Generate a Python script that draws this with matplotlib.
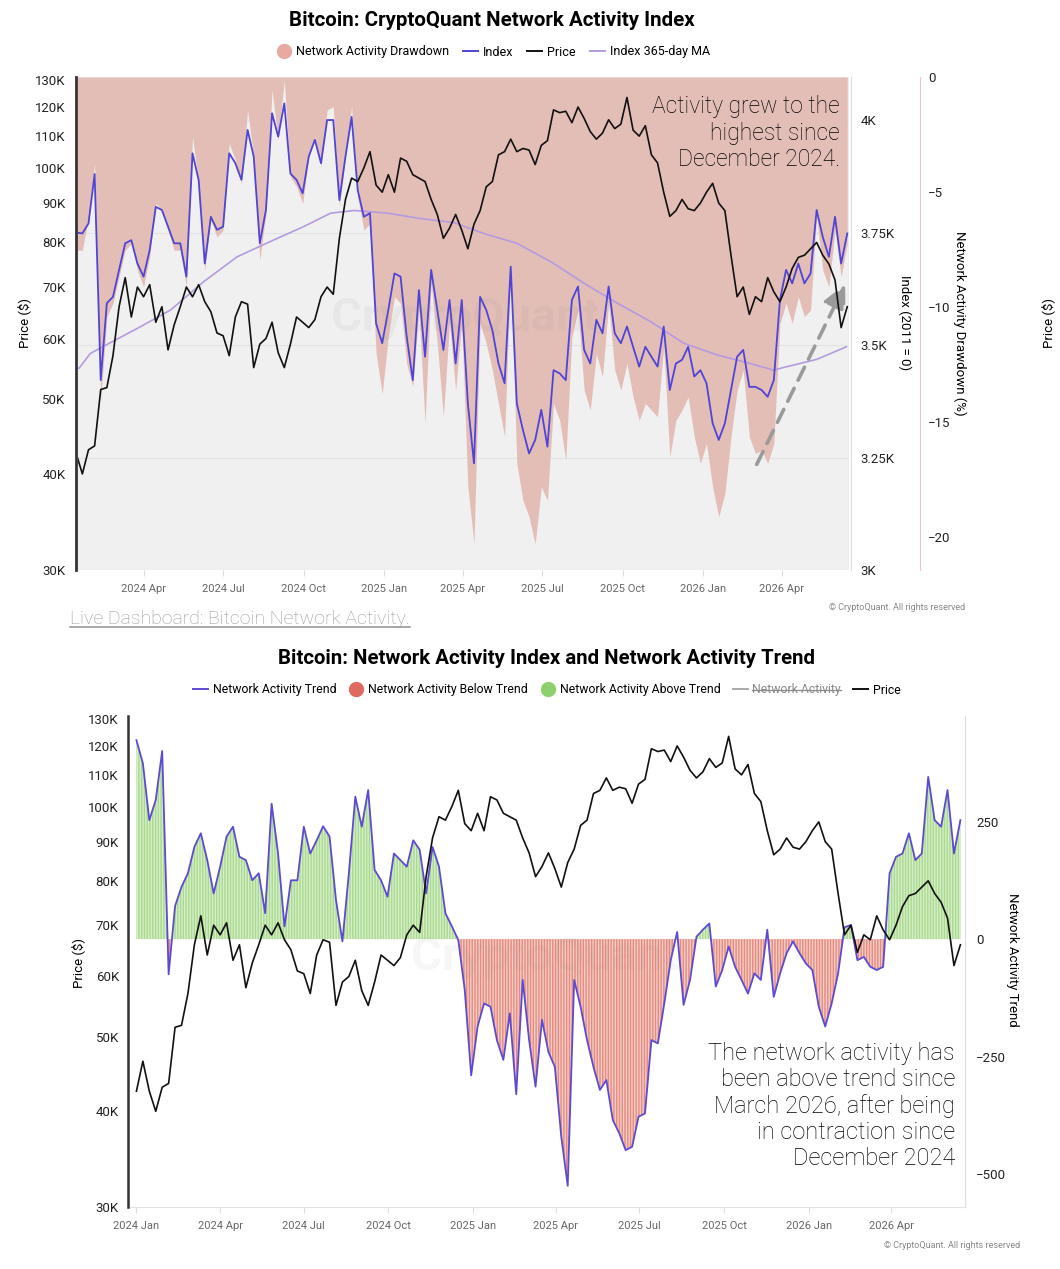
#!/usr/bin/env python3
import numpy as np
import pandas as pd
import matplotlib
matplotlib.use('Agg')
import matplotlib.pyplot as plt
import matplotlib.dates as mdates
from matplotlib.lines import Line2D
from matplotlib.ticker import FixedLocator, FixedFormatter, NullLocator

W, H = 1060, 1269

# BTC price (thousand USD), weekly from 2024-01-01
PRICE_START = '2024-01-01'
PRICE_K = [
    42.5, 46.5, 42.5, 40.0, 43.0, 43.5, 51.5, 51.8, 57.0, 66.0,
    72.0, 64.0, 70.0, 68.0, 70.5, 63.0, 66.0, 58.0, 62.5, 66.0,
    70.0, 68.0, 70.5, 67.0, 65.0, 61.0, 60.5, 57.0, 64.0, 67.0,
    66.5, 55.0, 59.0, 60.0, 63.0, 57.5, 55.0, 59.0, 64.0, 63.0,
    62.0, 63.5, 68.0, 70.0, 68.5, 81.0, 91.0, 97.0, 96.0, 100.0,
    105.0, 95.0, 93.0, 98.0, 93.0, 103.0, 102.0, 98.0, 97.0, 96.0,
    91.0, 87.0, 81.0, 83.5, 87.0, 83.0, 78.5, 84.5, 88.0, 94.5,
    96.0, 104.0, 105.0, 109.0, 105.0, 106.0, 105.5, 101.0, 107.0, 108.5,
    119.0, 118.0, 118.5, 114.5, 120.0, 116.0, 111.5, 109.0, 111.0, 115.5,
    112.5, 114.0, 123.5, 112.0, 110.0, 113.5, 104.0, 101.5, 93.0, 86.5,
    88.0, 91.0, 88.5, 88.0, 90.0, 93.0, 95.5, 90.0, 88.0, 77.0,
    68.0, 70.0, 64.5, 68.0, 67.0, 72.0, 69.0, 67.0, 70.0, 74.0,
    76.5, 77.0, 78.5, 80.0, 77.0, 75.0, 71.5, 62.0, 66.0,
]

# network activity index and its drawdown (%), weekly from 2024-01-15
NET_START = '2024-01-15'
INDEX = [
    3750, 3748, 3770, 3880, 3422, 3593, 3607, 3667, 3726, 3733,
    3681, 3652, 3711, 3807, 3800, 3763, 3726, 3726, 3652, 3926,
    3867, 3681, 3785, 3756, 3763, 3926, 3904, 3867, 3978, 3919,
    3726, 3800, 4015, 3963, 4037, 3881, 3867, 3837, 3919, 3956,
    3904, 4000, 4000, 3822, 3919, 4007, 3844, 3785, 3793, 3548,
    3504, 3578, 3659, 3652, 3519, 3422, 3622, 3474, 3667, 3578,
    3489, 3600, 3459, 3600, 3370, 3237, 3607, 3578, 3533, 3459,
    3415, 3674, 3370, 3311, 3259, 3289, 3356, 3274, 3444, 3437,
    3422, 3600, 3630, 3489, 3459, 3556, 3526, 3630, 3526, 3504,
    3541, 3496, 3452, 3496, 3474, 3452, 3541, 3400, 3459, 3467,
    3496, 3430, 3444, 3415, 3326, 3289, 3326, 3400, 3474, 3489,
    3407, 3407, 3400, 3385, 3422, 3600, 3667, 3637, 3681, 3637,
    3659, 3800, 3740, 3696, 3785, 3681, 3748,
]
DRAWDOWN = [
    -7.53, -7.53, -6.08, -3.76, -14.05, -10.42, -9.84, -8.68, -7.53, -7.24,
    -8.40, -9.12, -7.81, -5.50, -5.79, -6.66, -7.53, -7.53, -9.12, -2.60,
    -4.63, -8.40, -6.22, -6.95, -6.66, -2.89, -3.61, -4.63, -1.44, -3.47,
    -7.96, -5.93, -0.57, -2.74, -0.13, -4.34, -4.77, -5.50, -3.47, -2.60,
    -3.90, -1.44, -1.29, -5.64, -3.47, -1.29, -5.20, -6.66, -6.37, -12.02,
    -13.76, -11.29, -9.55, -9.84, -12.45, -13.47, -10.13, -15.06, -8.97, -11.58,
    -14.77, -10.71, -13.61, -10.71, -17.82, -20.28, -10.71, -11.58, -12.74, -14.19,
    -15.64, -8.40, -16.80, -18.40, -19.12, -20.30, -17.82, -18.40, -14.19, -14.92,
    -16.66, -11.29, -10.13, -13.61, -14.48, -12.02, -13.03, -9.84, -12.74, -13.61,
    -12.45, -13.90, -14.92, -14.19, -14.48, -14.77, -11.73, -16.51, -14.92, -14.48,
    -13.90, -15.64, -16.80, -15.93, -17.82, -19.12, -18.10, -15.64, -13.61, -12.74,
    -15.64, -16.37, -16.22, -16.80, -15.93, -10.71, -9.84, -10.71, -9.55, -10.42,
    -10.13, -6.08, -8.40, -9.12, -6.66, -8.68, -7.24,
]

# index 365-day moving average
MA_DATES = [
    '2024-01-18', '2024-01-31', '2024-02-16', '2024-03-25', '2024-05-02',
    '2024-06-09', '2024-07-17', '2024-08-24', '2024-10-01', '2024-11-01',
    '2024-11-28', '2025-01-05', '2025-02-12', '2025-03-22', '2025-04-25',
    '2025-06-02', '2025-07-11', '2025-08-18', '2025-09-25', '2025-11-02',
    '2025-12-10', '2026-01-17', '2026-02-24', '2026-03-23', '2026-04-03',
    '2026-05-11', '2026-06-14',
]
MA_VALUES = [
    3448, 3481, 3498, 3537, 3578, 3641, 3696, 3730, 3763, 3793,
    3799, 3793, 3781, 3772, 3748, 3726, 3685, 3637, 3593, 3552,
    3504, 3478, 3459, 3444, 3450, 3468, 3496,
]

# network activity trend, weekly from 2024-01-01
TREND_START = '2024-01-01'
TREND = [
    423, 374, 253, 296, 400, -75, 70, 111, 140, 196,
    225, 168, 97, 154, 218, 239, 175, 168, 125, 140,
    55, 288, 182, 27, 125, 125, 239, 182, 210, 240,
    218, 83, -5, 140, 303, 239, 317, 147, 125, 90,
    182, 168, 154, 210, 190, 97, 196, 154, 55, 27,
    -2, -108, -290, -186, -137, -144, -215, -257, -158, -330,
    -87, -215, -314, -172, -240, -272, -421, -525, -87, -144,
    -215, -272, -321, -300, -385, -413, -449, -442, -378, -371,
    -215, -222, -137, -45, 15, -140, -87, 5, 20, 33,
    -101, -66, -16, -59, -87, -116, -73, -87, 20, -123,
    -73, -30, -5, -30, -52, -66, -144, -186, -137, -73,
    25, 30, -45, -38, -59, -66, -59, 140, 175, 182,
    225, 168, 182, 345, 253, 239, 317, 182, 253,
]

PRICE_TICKS = [30, 40, 50, 60, 70, 80, 90, 100, 110, 120, 130]
INDEX_TICKS = [3000, 3250, 3500, 3750, 4000]
INDEX_LABELS = ['3K', '3.25K', '3.5K', '3.75K', '4K']
DD_TICKS = [0, -5, -10, -15, -20]
TREND_TICKS = [-500, -250, 0, 250]

ARROW_FROM = ('2026-03-02', 3229)
ARROW_TO = ('2026-06-14', 3640)

PINK = '#e3beb7'
PINK_DOT = '#e8a9a0'
BG = '#f0f0f0'
BLUE = '#4f44d6'
MA_COLOR = '#b49be0'
GREEN = '#a8d98d'
RED = '#e48a7e'
TICK_GRAY = '#666666'


def fx(px):
    return px / W


def fy(py):
    return 1 - py / H


def price_labels(ax, pad):
    ax.set_yscale('log')
    ax.set_ylim(30, 131.3)
    ax.yaxis.set_major_locator(FixedLocator(PRICE_TICKS))
    ax.yaxis.set_major_formatter(FixedFormatter([f'{v}K' for v in PRICE_TICKS]))
    ax.yaxis.set_minor_locator(NullLocator())
    ax.yaxis.tick_left()
    ax.tick_params(axis='y', length=0, pad=pad, labelsize=9.5, labelcolor='#222')


def quarter_axis(ax):
    ax.xaxis.set_major_locator(mdates.MonthLocator(bymonth=[1, 4, 7, 10]))
    ax.xaxis.set_major_formatter(mdates.DateFormatter('%Y %b'))
    ax.tick_params(axis='x', length=4, color='#dddddd', pad=6,
                   labelsize=8, labelcolor=TICK_GRAY)


def hide_spines(*axes):
    for ax in axes:
        for s in ax.spines.values():
            s.set_visible(False)


def main():
    plt.rcParams['font.family'] = ['Roboto', 'DejaVu Sans']
    price_dates = pd.date_range(PRICE_START, periods=len(PRICE_K), freq='7D')
    net_dates = pd.date_range(NET_START, periods=len(INDEX), freq='7D')
    trend_dates = pd.date_range(TREND_START, periods=len(TREND), freq='7D')
    ma_dates = pd.to_datetime(MA_DATES)
    trend = np.array(TREND, dtype=float)

    fig = plt.figure(figsize=(W / 100, H / 100), dpi=100)

    # ---------------- top chart ----------------
    ax_i = fig.add_axes([fx(78), fy(570), 771 / W, 493 / H])
    ax_d = ax_i.twinx()
    ax_p = ax_i.twinx()
    hide_spines(ax_i, ax_d, ax_p)

    ax_i.set_facecolor(BG)
    ax_i.set_axisbelow(True)
    ax_i.grid(axis='y', color='#e3e3e3', lw=0.8)
    ax_i.fill_between(net_dates, DRAWDOWN, 0, transform=ax_d.transData,
                      color=PINK, lw=0, zorder=1)
    ax_i.plot(ma_dates, MA_VALUES, color=MA_COLOR, lw=1.2, zorder=2)
    ax_i.plot(net_dates, INDEX, color=BLUE, lw=1.3, zorder=3)
    ax_i.set_ylim(3000, 4095.6)
    ax_i.set_xlim(pd.Timestamp('2024-01-17'), pd.Timestamp('2026-06-17'))
    ax_i.yaxis.tick_right()
    ax_i.yaxis.set_major_locator(FixedLocator(INDEX_TICKS))
    ax_i.yaxis.set_major_formatter(FixedFormatter(INDEX_LABELS))
    ax_i.tick_params(axis='y', length=0, pad=7, labelsize=9.5, labelcolor='#222')
    ax_i.spines['right'].set_visible(True)
    ax_i.spines['right'].set_color('#dddddd')
    ax_i.spines['right'].set_position(('outward', 1.5))
    quarter_axis(ax_i)

    ax_d.set_ylim(-21.43, 0)
    ax_d.yaxis.set_major_locator(FixedLocator(DD_TICKS))
    ax_d.spines['right'].set_visible(True)
    ax_d.spines['right'].set_color('#f0c4c4')
    ax_d.spines['right'].set_position(('outward', 51))
    ax_d.tick_params(axis='y', length=0, pad=6, labelsize=9.5, labelcolor='#222')

    ax_p.plot(price_dates, PRICE_K, color='#111111', lw=1.2)
    price_labels(ax_p, 7.5)
    ax_p.spines['left'].set_visible(True)
    ax_p.spines['left'].set_color('#333333')
    ax_p.spines['left'].set_linewidth(2)
    ax_p.spines['left'].set_position(('outward', 1.5))

    ax_i.annotate('', xy=(pd.Timestamp(ARROW_TO[0]), ARROW_TO[1]),
                  xytext=(pd.Timestamp(ARROW_FROM[0]), ARROW_FROM[1]),
                  arrowprops=dict(arrowstyle='-|>', color='#9a9a9a', lw=2.6,
                                  linestyle=(0, (4, 2.5)), mutation_scale=36),
                  annotation_clip=False, zorder=4)

    fig.text(fx(840), fy(95), 'Activity grew to the\nhighest since\nDecember 2024.',
             ha='right', va='top', fontsize=16.5, fontweight='light',
             linespacing=1.2, color='#000000')
    fig.text(fx(465), fy(318), 'CryptoQuant', ha='center', va='center',
             fontsize=34, fontweight='bold', color='#888888', alpha=0.08)

    fig.text(fx(492), fy(21), 'Bitcoin: CryptoQuant Network Activity Index',
             ha='center', va='center', fontsize=14.8, fontweight='bold')
    top_handles = [
        Line2D([], [], marker='o', ls='', color=PINK_DOT, markersize=10),
        Line2D([], [], color=BLUE, lw=1.4),
        Line2D([], [], color='#111111', lw=1.4),
        Line2D([], [], color=MA_COLOR, lw=1.4),
    ]
    fig.legend(top_handles, ['Network Activity Drawdown', 'Index', 'Price', 'Index 365-day MA'],
               loc='center', bbox_to_anchor=(fx(493), fy(52)), ncol=4, frameon=False,
               fontsize=9, handlelength=1.2, handletextpad=0.4, columnspacing=1.1)

    fig.text(fx(24), fy(323), 'Price ($)', rotation=90, ha='center', va='center', fontsize=9.5)
    fig.text(fx(905), fy(323), 'Index (2011 = 0)', rotation=270, ha='center', va='center', fontsize=9.5)
    fig.text(fx(960), fy(323), 'Network Activity Drawdown (%)', rotation=270,
             ha='center', va='center', fontsize=9.5)
    fig.text(fx(1048), fy(323), 'Price ($)', rotation=90, ha='center', va='center', fontsize=9.5)
    fig.text(fx(965), fy(607), '© CryptoQuant. All rights reserved', ha='right',
             va='center', fontsize=6.5, color='#888888')
    link = fig.text(fx(70), fy(619), 'Live Dashboard: Bitcoin Network Activity.',
                    ha='left', va='center', fontsize=14, fontweight='light', color='#9a9a9a')

    # ---------------- bottom chart ----------------
    ax_t = fig.add_axes([fx(130), fy(1207), 835 / W, 491 / H])
    ax_bp = ax_t.twinx()
    hide_spines(ax_t, ax_bp)

    ax_t.fill_between(trend_dates, 0, trend, where=trend >= 0, interpolate=True,
                      facecolor=GREEN, edgecolor='#d6efc9', hatch='||||||', lw=0, zorder=1)
    ax_t.fill_between(trend_dates, 0, trend, where=trend <= 0, interpolate=True,
                      facecolor=RED, edgecolor='#f4cdc6', hatch='||||||', lw=0, zorder=1)
    ax_t.plot(trend_dates, trend, color='#5d4ad2', lw=1.3, zorder=3)
    ax_t.set_ylim(-570, 474.5)
    ax_t.set_xlim(pd.Timestamp('2023-12-25'), pd.Timestamp('2026-06-20'))
    ax_t.yaxis.tick_right()
    ax_t.yaxis.set_major_locator(FixedLocator(TREND_TICKS))
    ax_t.tick_params(axis='y', length=0, pad=8, labelsize=9.5, labelcolor='#222')
    ax_t.spines['right'].set_visible(True)
    ax_t.spines['right'].set_color('#dddddd')
    ax_t.spines['bottom'].set_visible(True)
    ax_t.spines['bottom'].set_color('#e3e3e3')
    quarter_axis(ax_t)

    ax_bp.plot(price_dates, PRICE_K, color='#111111', lw=1.2)
    price_labels(ax_bp, 6.5)
    ax_bp.spines['left'].set_visible(True)
    ax_bp.spines['left'].set_color('#333333')
    ax_bp.spines['left'].set_linewidth(1.8)
    ax_bp.spines['left'].set_position(('outward', 1.5))

    fig.text(fx(955), fy(1042),
             'The network activity has\nbeen above trend since\nMarch 2026, after being\n'
             'in contraction since\nDecember 2024',
             ha='right', va='top', fontsize=17, fontweight='light',
             linespacing=1.17, color='#000000')
    fig.text(fx(545), fy(957), 'CryptoQuant', ha='center', va='center',
             fontsize=34, fontweight='bold', color='#888888', alpha=0.07)

    fig.text(fx(547), fy(659), 'Bitcoin: Network Activity Index and Network Activity Trend',
             ha='center', va='center', fontsize=14.7, fontweight='bold')
    bottom_handles = [
        Line2D([], [], color='#5d4ad2', lw=1.4),
        Line2D([], [], marker='o', ls='', color='#e06a60', markersize=10),
        Line2D([], [], marker='o', ls='', color='#8fd06e', markersize=10),
        Line2D([], [], color='#aaaaaa', lw=1.4),
        Line2D([], [], color='#111111', lw=1.4),
    ]
    leg = fig.legend(bottom_handles, ['Network Activity Trend', 'Network Activity Below Trend',
                                      'Network Activity Above Trend', 'Network Activity', 'Price'],
                     loc='center', bbox_to_anchor=(fx(547), fy(690)), ncol=5, frameon=False,
                     fontsize=8.8, handlelength=1.2, handletextpad=0.4, columnspacing=1.0)
    leg.get_texts()[3].set_color('#8a8a8a')

    fig.text(fx(78), fy(963), 'Price ($)', rotation=90, ha='center', va='center', fontsize=9.5)
    fig.text(fx(1013), fy(960), 'Network Activity Trend', rotation=270,
             ha='center', va='center', fontsize=9.5)
    fig.text(fx(1020), fy(1246), '© CryptoQuant. All rights reserved', ha='right',
             va='center', fontsize=6.5, color='#888888')

    # strike-through on hidden series, underline on the link
    fig.canvas.draw()
    inv = fig.transFigure.inverted()
    bb = leg.get_texts()[3].get_window_extent().transformed(inv)
    fig.add_artist(Line2D([bb.x0, bb.x1], [(bb.y0 + bb.y1) / 2] * 2,
                          transform=fig.transFigure, color='#8a8a8a', lw=0.9))
    bb = link.get_window_extent().transformed(inv)
    fig.add_artist(Line2D([bb.x0, bb.x1], [bb.y0 + 0.001] * 2,
                          transform=fig.transFigure, color='#9a9a9a', lw=1.2))

    fig.savefig('out.png', dpi=100)


if __name__ == '__main__':
    main()
